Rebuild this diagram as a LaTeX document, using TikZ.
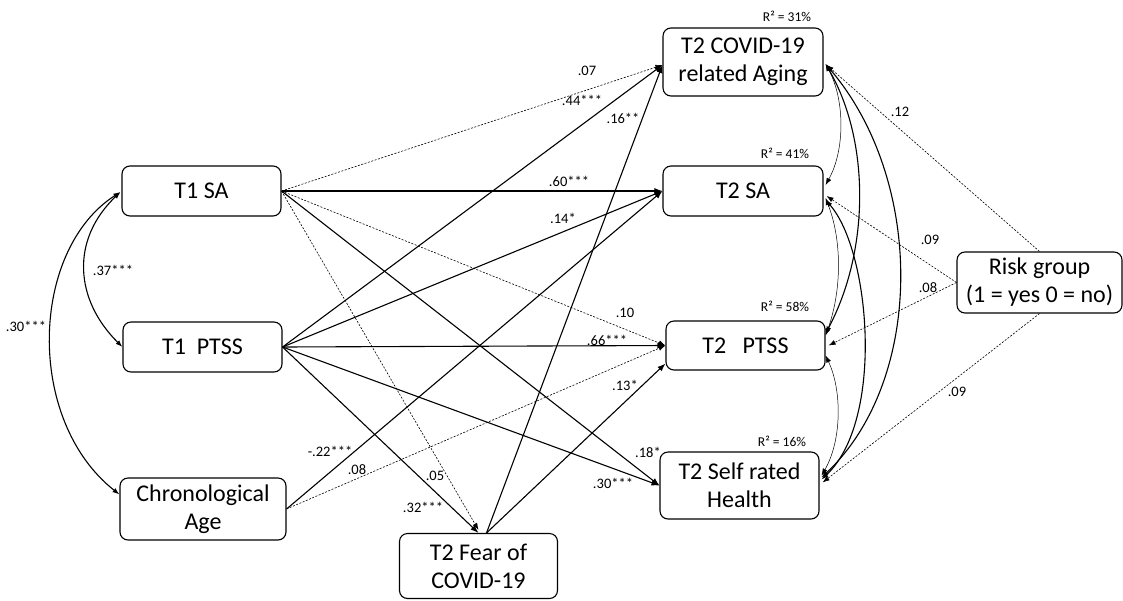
\documentclass[tikz,border=0pt]{standalone}
\usepackage{fontspec}
\setmainfont{Carlito}
\usetikzlibrary{arrows.meta,calc}
\begin{document}
\begin{tikzpicture}[x=1pt,y=-1pt,
  box/.style={draw,rounded corners=8pt,line width=1.1pt,align=center,
    font=\fontsize{24}{28}\selectfont,inner sep=0pt},
  solidpath/.style={line width=1.1pt,-{Latex[length=8pt,width=6pt]}},
  dashpath/.style={line width=0.6pt,dash pattern=on 2pt off 1.5pt,-{Latex[length=7pt,width=5pt]}},
  cov/.style={line width=1.1pt,{Latex[length=7pt,width=5pt]}-{Latex[length=7pt,width=5pt]}},
  thincov/.style={line width=0.5pt,{Latex[length=7pt,width=5pt]}-{Latex[length=7pt,width=5pt]}},
  lab/.style={font=\fontsize{14.5}{16}\selectfont,inner sep=0pt},
  rsq/.style={font=\fontsize{13.5}{15}\selectfont,inner sep=0pt}]
\useasboundingbox (0,0) rectangle (1123,600);

% nodes
\node[box,minimum width=159pt,minimum height=50pt] (t1sa) at (201.5,191) {T1 SA};
\node[box,minimum width=159pt,minimum height=50pt] (t1ptss) at (202.5,347) {T1\ \ PTSS};
\node[box,minimum width=166pt,minimum height=62pt] (age) at (203,509) {Chronological\\Age};
\node[box,minimum width=158pt,minimum height=65pt] (fear) at (478.5,566) {T2 Fear of\\COVID-19};
\node[box,minimum width=160pt,minimum height=68pt] (aging) at (743,62) {T2 COVID-19\\related Aging};
\node[box,minimum width=160pt,minimum height=50pt] (t2sa) at (743,191) {T2 SA};
\node[box,minimum width=159pt,minimum height=49pt] (t2ptss) at (745.5,345.5) {T2\ \ \ PTSS};
\node[box,minimum width=159pt,minimum height=67pt] (srh) at (739.5,485.5) {T2 Self rated\\Health};
\node[box,minimum width=165pt,minimum height=61pt] (risk) at (1039.5,282.5) {Risk group\\(1 = yes 0 = no)};

% R squared
\node[rsq] (r1) at (787,16) {R² = 31\%};
\node[rsq] (r2) at (785,153) {R² = 41\%};
\node[rsq] (r3) at (785,306) {R² = 58\%};
\node[rsq] (r4) at (782,441) {R² = 16\%};

% paths from T1 SA
\draw[dashpath] (t1sa.east) -- ($(aging.west)+(0,3)$);
\draw[solidpath] (t1sa.east) -- (t2sa.west);
\draw[dashpath] (t1sa.east) -- (t2ptss.west);
\draw[solidpath] (t1sa.east) -- (srh.west);
\draw[dashpath] (t1sa.east) -- ($(fear.north)+(0,-3)$);

% paths from T1 PTSS
\draw[solidpath] (t1ptss.east) -- ($(aging.west)+(0,3)$);
\draw[solidpath] (t1ptss.east) -- (t2sa.west);
\draw[solidpath] (t1ptss.east) -- (t2ptss.west);
\draw[solidpath] (t1ptss.east) -- (srh.west);
\draw[solidpath] (t1ptss.east) -- (fear.north);

% paths from age
\draw[solidpath] (age.east) -- (t2sa.west);
\draw[dashpath] (age.east) -- (t2ptss.west);

% paths from fear
\draw[solidpath] ($(fear.north)+(8,0)$) -- ($(aging.west)+(0,3)$);
\draw[solidpath] ($(fear.north)+(8,0)$) -- ($(t2ptss.south west)+(0,-7)$);

% risk group
\draw[dashpath] (risk.north) -- ($(aging.east)+(3,3)$);
\draw[dashpath] (risk.west) -- ($(t2sa.east)+(3,5)$);
\draw[dashpath] (risk.west) -- ($(t2ptss.east)+(3,0)$);
\draw[dashpath] (risk.south) -- ($(srh.east)+(3,-3)$);

% left covariances
\draw[cov] ($(t1sa.west)+(-1,1)$) .. controls (70,240) and (75,300) .. (t1ptss.west);
\draw[cov] ($(t1sa.west)+(-1,1)$) .. controls (30,250) and (25,420) .. ($(age.north west)+(0,17)$);

% right covariances
\draw[thincov] ($(aging.east)+(2,2)$) .. controls (845,100) and (845,150) .. ($(t2sa.east)+(2,-6)$);
\draw[cov] ($(aging.east)+(2,2)$) .. controls (870,140) and (870,250) .. ($(t2ptss.east)+(0,-12)$);
\draw[cov] ($(aging.east)+(2,2)$) .. controls (925,180) and (925,380) .. ($(srh.east)+(2,-8)$);
\draw[thincov] ($(t2sa.east)+(2,7)$) .. controls (842,240) and (842,290) .. ($(t2ptss.east)+(0,-10)$);
\draw[cov] ($(t2sa.east)+(2,9)$) .. controls (870,250) and (885,420) .. ($(srh.east)+(2,-6)$);
\draw[thincov] ($(t2ptss.east)+(0,10)$) .. controls (842,390) and (842,440) .. ($(srh.east)+(2,-10)$);

% labels
\node[lab] (l1) at (587,71) {.07};
\node[lab] (l2) at (582,100) {.44***};
\node[lab] (l3) at (623,118) {.16**};
\node[lab] (l4) at (569,181) {.60***};
\node[lab] (l5) at (563,218) {.14*};
\node[lab] (l6) at (625,313) {.10};
\node[lab] (l7) at (607,340) {.66***};
\node[lab] (l8) at (625,385) {.13*};
\node[lab] (l9) at (648,452) {.18*};
\node[lab] (l10) at (613,483) {.30***};
\node[lab] (l11) at (435,476) {.05};
\node[lab] (l12) at (423,507) {.32***};
\node[lab] (l13) at (330,451) {-.22***};
\node[lab] (l14) at (357,470) {.08};
\node[lab] (l15) at (113,270) {.37***};
\node[lab] (l16) at (26,326) {.30***};
\node[lab] (l17) at (900,112) {.12};
\node[lab] (l18) at (930,240) {.09};
\node[lab] (l19) at (928,288) {.08};
\node[lab] (l20) at (957,392) {.09};
\end{tikzpicture}
\end{document}
